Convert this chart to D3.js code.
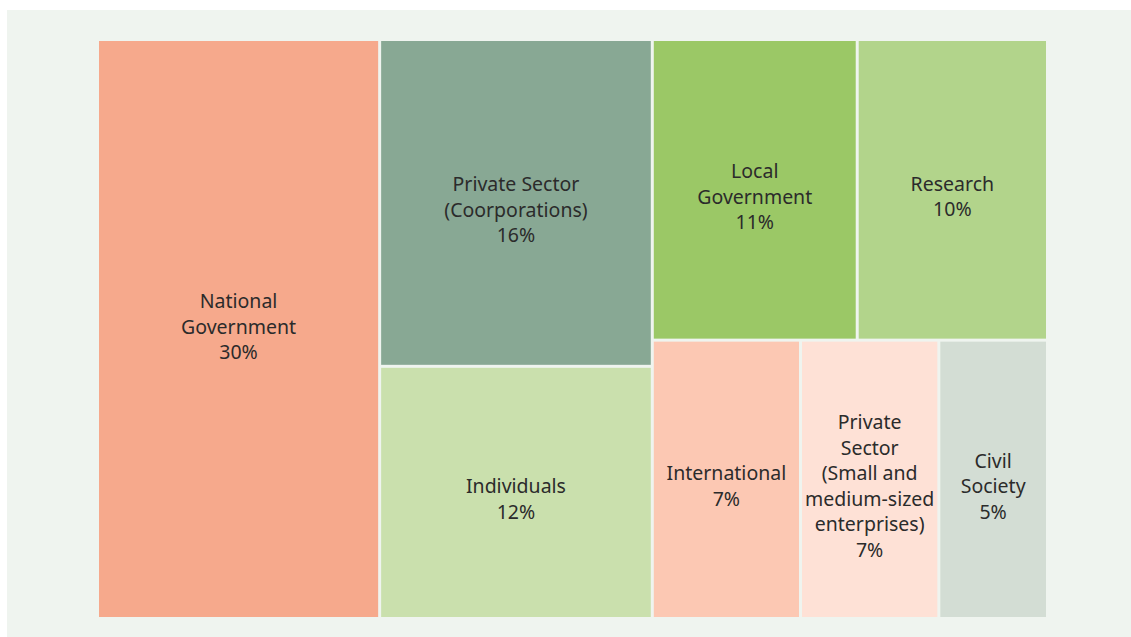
<!doctype html>
<html lang="en">
<head>
  <meta charset="utf-8">
  <script src="https://d3js.org/d3.v7.min.js"></script>
  <style>
    html, body { margin: 0; padding: 0; background: #ffffff; }
    svg { display: block; }
    .lbl { font-family: "Noto Sans", "DejaVu Sans", sans-serif; font-size: 19.5px; fill: #2b2b2b; }
  </style>
</head>
<body>
  <div id="chart"></div>
  <script>
    // data (tile areas), labels as printed
    var categories = ["National Government", "Private Sector (Coorporations)", "Individuals",
                      "Local Government", "Research", "International",
                      "Private Sector (Small and medium-sized enterprises)", "Civil Society"];
    var labelLines = [["National", "Government"], ["Private Sector", "(Coorporations)"], ["Individuals"],
                      ["Local", "Government"], ["Research"], ["International"],
                      ["Private", "Sector", "(Small and", "medium-sized", "enterprises)"], ["Civil", "Society"]];
    var values = [29.7, 16.2, 12.5, 11.2, 10.4, 7.5, 7.0, 5.5];
    var percents = ["30%", "16%", "12%", "11%", "10%", "7%", "7%", "5%"];
    var colors = ["#f6a98c", "#88a894", "#cae0ad", "#9bc866", "#b2d48b", "#fcc8b3", "#fee1d6", "#d3ddd4"];
    // how the tiles are grouped in the picture (indexes into categories):
    // columns left to right, then stacked rows inside each column
    var layoutGroups = [0, [1, 2], [[3, 4], [5, 6, 7]]];

    var W = 1131, H = 637;
    var margin = {left: 99, top: 41, right: 85, bottom: 20};
    var iw = W - margin.left - margin.right,
        ih = H - margin.top - margin.bottom;

    var svg = d3.select("#chart").append("svg")
        .attr("width", W).attr("height", H);

    // light panel behind the chart
    svg.append("rect")
        .attr("x", 7).attr("y", 10)
        .attr("width", W - 7).attr("height", H - 10)
        .attr("fill", "#eff4ef");

    function build(n) {
      if (Array.isArray(n)) return {children: n.map(build)};
      return {name: categories[n], value: values[n], lines: labelLines[n], pct: percents[n], color: colors[n]};
    }

    var root = d3.hierarchy(build(layoutGroups))
        .sum(function(d) { return d.children ? 0 : d.value; });

    d3.treemap()
        .tile(d3.treemapSliceDice)
        .size([iw, ih])
        .paddingInner(3)(root);

    var g = svg.append("g")
        .attr("transform", "translate(" + margin.left + "," + margin.top + ")");

    var cell = g.selectAll("g.cell").data(root.leaves()).enter()
        .append("g").attr("class", "cell");

    cell.append("rect")
        .attr("x", function(d) { return d.x0; })
        .attr("y", function(d) { return d.y0; })
        .attr("width", function(d) { return d.x1 - d.x0; })
        .attr("height", function(d) { return d.y1 - d.y0; })
        .attr("fill", function(d) { return d.data.color; });

    var lineH = 25.5;
    cell.each(function(d) {
      var lines = d.data.lines.concat([d.data.pct]);
      var cx = (d.x0 + d.x1) / 2,
          cy = (d.y0 + d.y1) / 2 + (d.depth === 1 ? -2 : 7);
      var top = cy - (lines.length - 1) * lineH / 2;
      var t = d3.select(this).append("text")
          .attr("class", "lbl")
          .attr("text-anchor", "middle");
      lines.forEach(function(s, k) {
        t.append("tspan")
          .attr("x", cx)
          .attr("y", top + k * lineH)
          .attr("dy", "0.35em")
          .text(s);
      });
    });
  </script>
</body>
</html>
